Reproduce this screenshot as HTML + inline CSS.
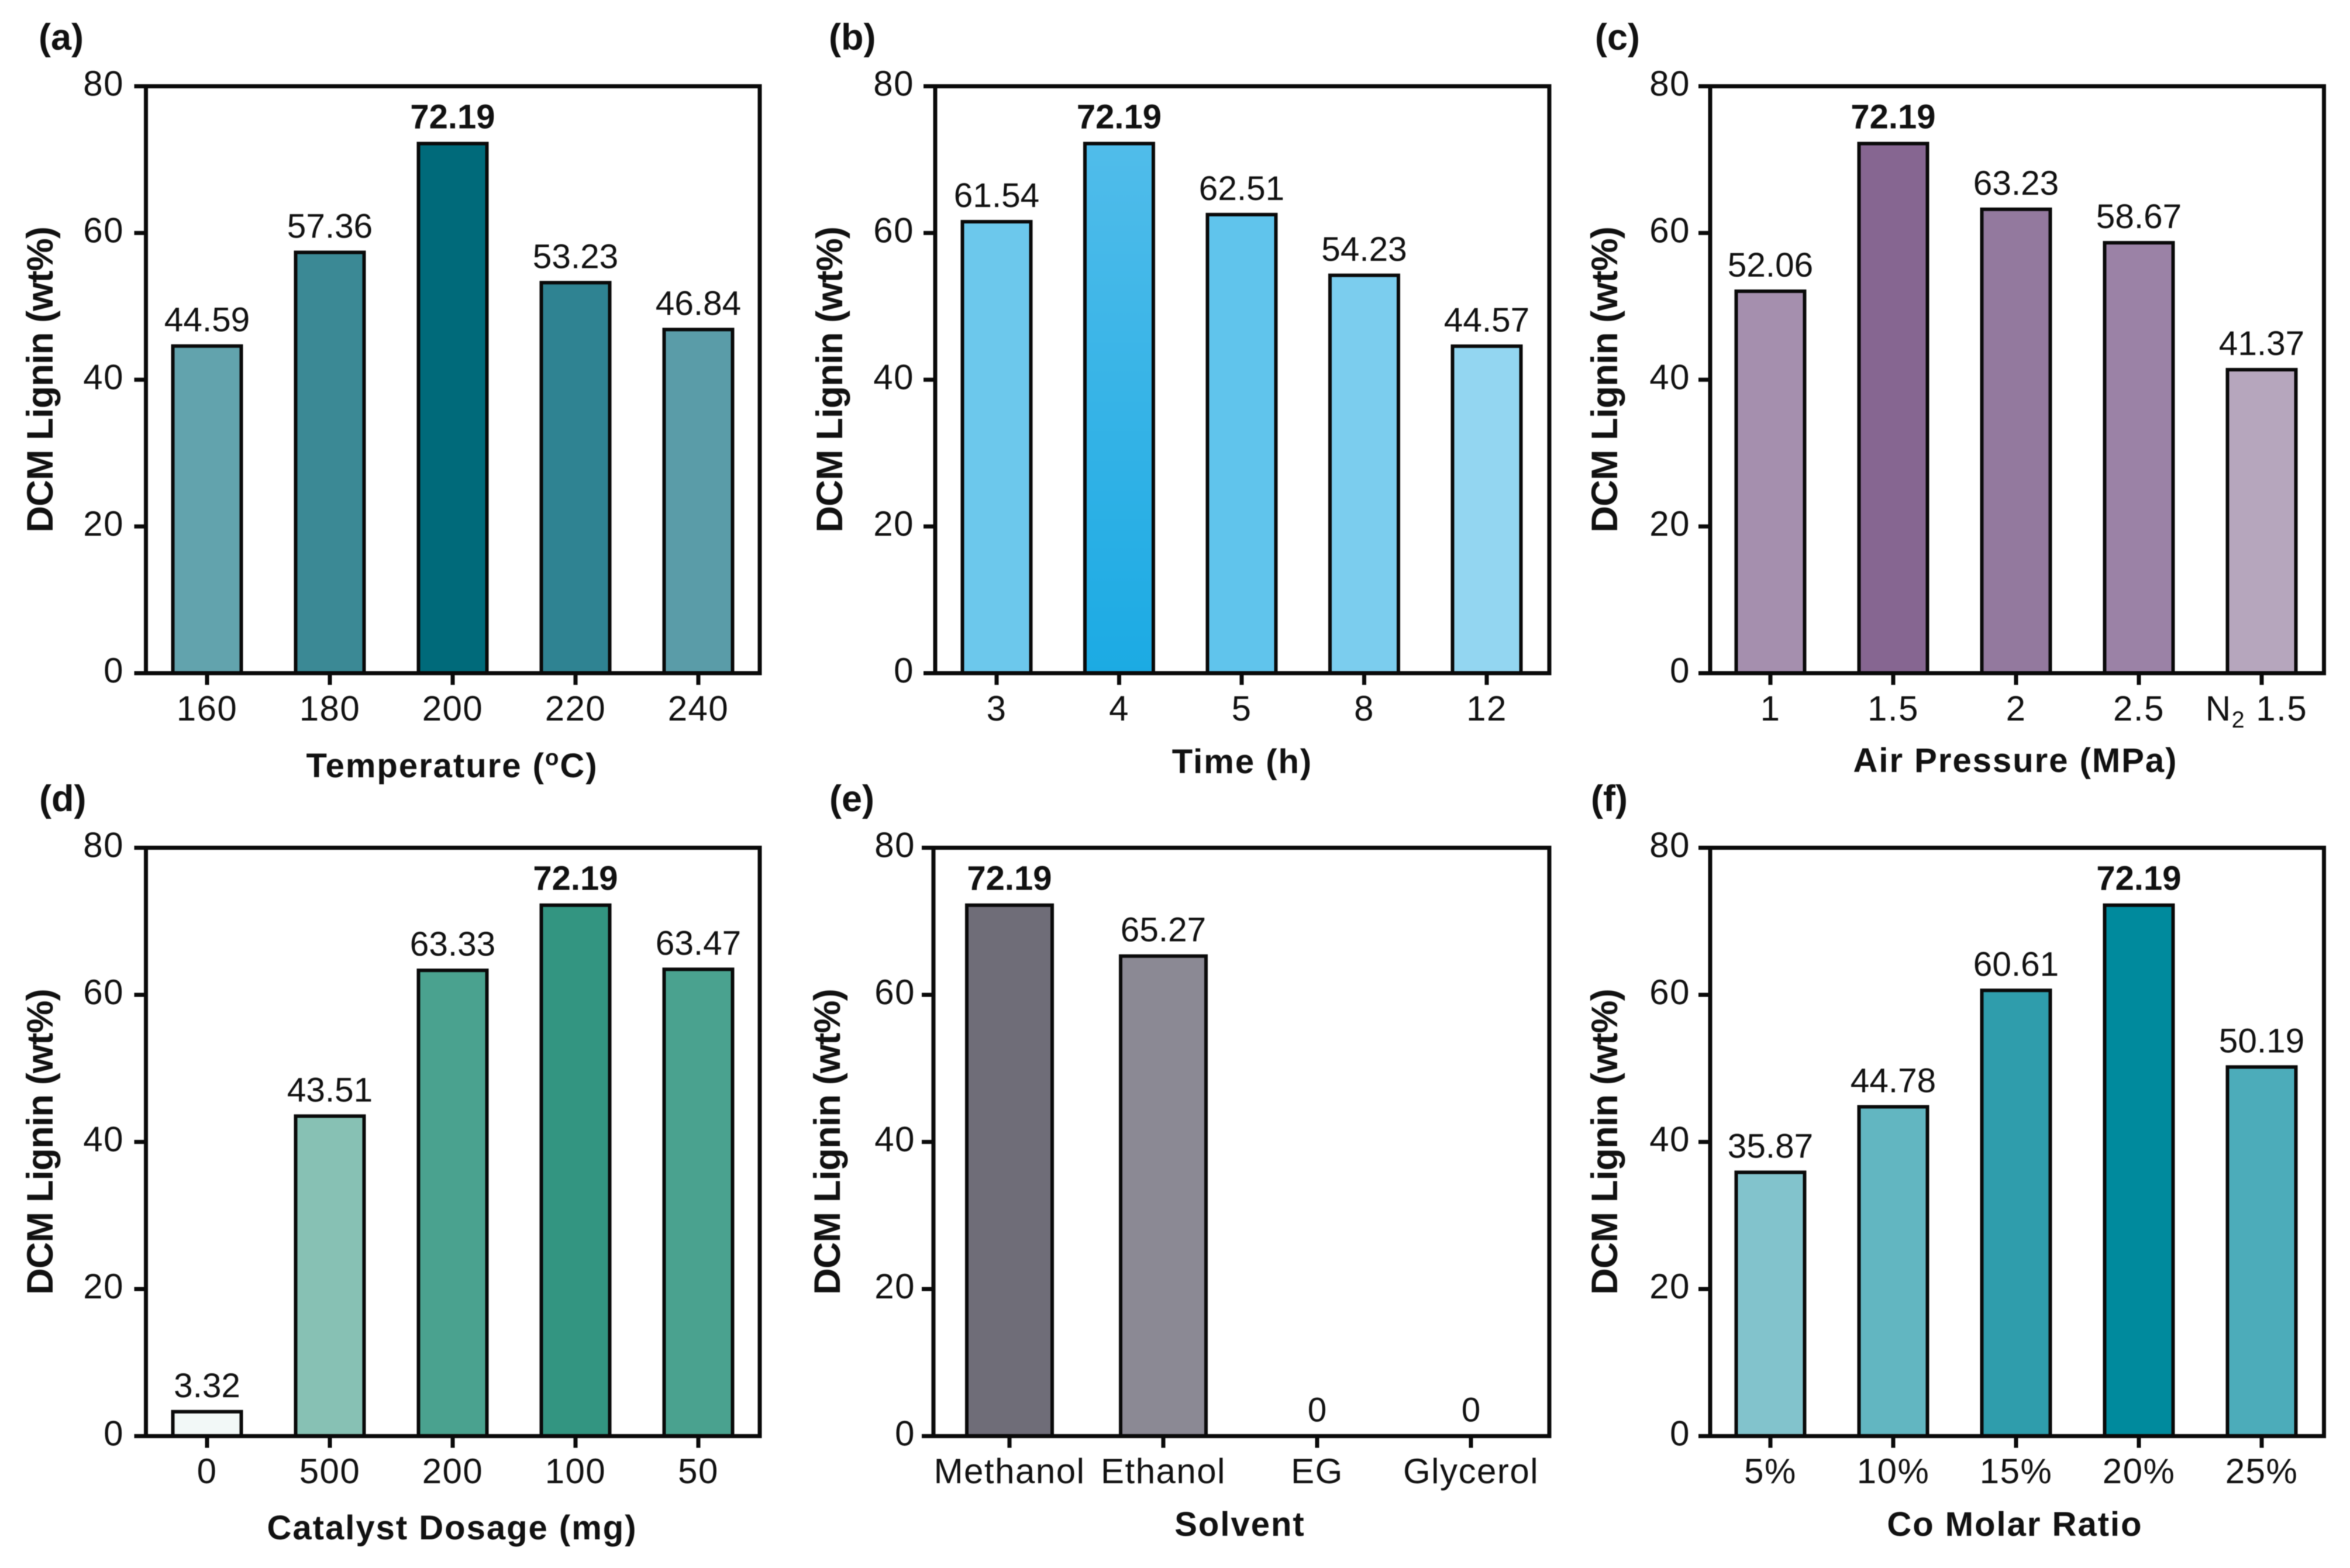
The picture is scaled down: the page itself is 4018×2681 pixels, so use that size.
<!DOCTYPE html>
<html lang="en">
<head>
<meta charset="utf-8">
<title>DCM Lignin yield panels</title>
<style>
html,body{margin:0;padding:0;background:#fff;width:4018px;height:2681px;overflow:hidden}
svg{display:block;filter:blur(0.8px)}
text{font-family:"Liberation Sans",Arial,sans-serif;fill:#111}
</style>
</head>
<body>
<svg id="figure" xmlns="http://www.w3.org/2000/svg" width="4018" height="2681" viewBox="0 0 4018 2681">
<defs>
<linearGradient id="bar-gradient-time" x1="0" y1="0" x2="0" y2="1">
<stop offset="0" stop-color="#50bcea"/>
<stop offset="1" stop-color="#1baae3"/>
</linearGradient>
</defs>
</svg>
<script>
// ---- data ----
const yTicks = [0, 20, 40, 60, 80];
const yAxisTitle = 'DCM Lignin (wt%)';

const categoriesA = ['160', '180', '200', '220', '240'];
const valuesA = [44.59, 57.36, 72.19, 53.23, 46.84];
const categoriesB = ['3', '4', '5', '8', '12'];
const valuesB = [61.54, 72.19, 62.51, 54.23, 44.57];
const categoriesC = ['1', '1.5', '2', '2.5', 'N₂ 1.5'];
const valuesC = [52.06, 72.19, 63.23, 58.67, 41.37];
const categoriesD = ['0', '500', '200', '100', '50'];
const valuesD = [3.32, 43.51, 63.33, 72.19, 63.47];
const categoriesE = ['Methanol', 'Ethanol', 'EG', 'Glycerol'];
const valuesE = [72.19, 65.27, 0, 0];
const categoriesF = ['5%', '10%', '15%', '20%', '25%'];
const valuesF = [35.87, 44.78, 60.61, 72.19, 50.19];

// ---- layout and style ----
const panels = [
  {id:'a', label:'(a)', labelX:66, labelY:85, title:'Temperature (°C)', titleX:773, titleY:1329, tickY:1232,
   left:249.5, right:1299, top:147.5, bottom:1151, first:354, step:210, barW:117, yTitleX:90, yTickX:212,
   cats:categoriesA, vals:valuesA, fills:['#62a3ad','#3b8995','#006a7a','#2f8392','#5a9ca8']},
  {id:'b', label:'(b)', labelX:1417, labelY:85, title:'Time (h)', titleX:2124, titleY:1322, tickY:1232,
   left:1599, right:2649, top:147.5, bottom:1151, first:1704, step:209.5, barW:117, yTitleX:1440, yTickX:1563,
   cats:categoriesB, vals:valuesB, fills:['#6cc8ec','url(#bar-gradient-time)','#60c4ec','#7bcdee','#93d6f1']},
  {id:'c', label:'(c)', labelX:2727, labelY:85, title:'Air Pressure (MPa)', titleX:3446, titleY:1320, tickY:1232,
   left:2924, right:3973.5, top:147.5, bottom:1151, first:3027, step:210, barW:117, yTitleX:2765, yTickX:2890,
   cats:categoriesC, vals:valuesC, fills:['#a58fae','#866691','#93799e','#9b82a6','#b6a6bd']},
  {id:'d', label:'(d)', labelX:67, labelY:1387, title:'Catalyst Dosage (mg)', titleX:773, titleY:2632, tickY:2536,
   left:249.5, right:1299, top:1449.5, bottom:2455.5, first:354, step:210, barW:117, yTitleX:90, yTickX:212,
   cats:categoriesD, vals:valuesD, fills:['#f2f8f7','#87c1b4','#4aa28f','#339581','#4aa28f']},
  {id:'e', label:'(e)', labelX:1418, labelY:1387, title:'Solvent', titleX:2120, titleY:2626, tickY:2536,
   left:1596, right:2649, top:1449.5, bottom:2455.5, first:1726, step:263, barW:146, yTitleX:1436, yTickX:1565,
   cats:categoriesE, vals:valuesE, fills:['#6f6d78','#8b8994','#ffffff','#ffffff']},
  {id:'f', label:'(f)', labelX:2720, labelY:1387, title:'Co Molar Ratio', titleX:3445, titleY:2626, tickY:2536,
   left:2924, right:3973.5, top:1449.5, bottom:2455.5, first:3027, step:210, barW:117, yTitleX:2765, yTickX:2890,
   cats:categoriesF, vals:valuesF, fills:['#82c3cc','#62b6c1','#2f9dac','#008a9d','#4cacba']}
];

const NS = 'http://www.w3.org/2000/svg';
const root = document.getElementById('figure');
const TICK_LEN = 20;
const AXIS_W = 7;
const BAR_STROKE = 6;

function make(tag, parent, name) {
  const el = document.createElementNS(NS, tag);
  
  
  parent.appendChild(el);
  return el;
}

function label(parent, name, content, x, y, size, opts) {
  const o = opts || {};
  const t = make('text', parent, name);
  t.setAttribute('font-size', size);
  t.setAttribute('text-anchor', o.anchor || 'middle');
  if (o.bold) t.setAttribute('font-weight', 'bold');
  if (o.spacing) t.setAttribute('letter-spacing', o.spacing);
  if (o.rotate) t.setAttribute('transform', 'translate(' + x + ' ' + y + ') rotate(-90)');
  else { t.setAttribute('x', x); t.setAttribute('y', y); }
  String(content).split(/([°₂])/).forEach(function (part) {
    if (!part) return;
    const s = document.createElementNS(NS, 'tspan');
    if (part === '°') {
      s.textContent = 'o';
      s.setAttribute('font-size', size * 0.66);
      s.setAttribute('dy', -size * 0.36);
      t.appendChild(s);
      const back = document.createElementNS(NS, 'tspan');
      back.setAttribute('dy', size * 0.36);
      back.textContent = '\u200b';
      t.appendChild(back);
    } else if (part === '₂') {
      s.textContent = '2';
      s.setAttribute('font-size', size * 0.66);
      s.setAttribute('dy', size * 0.2);
      t.appendChild(s);
      const back = document.createElementNS(NS, 'tspan');
      back.setAttribute('dy', -size * 0.2);
      back.textContent = '\u200b';
      t.appendChild(back);
    } else {
      s.textContent = part;
      t.appendChild(s);
    }
  });
  return t;
}

function line(parent, name, x1, y1, x2, y2) {
  const l = make('line', parent, name);
  l.setAttribute('x1', x1);
  l.setAttribute('y1', y1);
  l.setAttribute('x2', x2);
  l.setAttribute('y2', y2);
  l.setAttribute('stroke', '#0a0a0a');
  l.setAttribute('stroke-width', AXIS_W);
  return l;
}

panels.forEach(function (p) {
  const g = make('g', root, 'panel-' + p.id);
  const yScale = function (v) { return p.bottom - (v / 80) * (p.bottom - p.top); };
  const xScale = function (i) { return p.first + i * p.step; };
  const maxVal = Math.max.apply(null, p.vals);

  label(g, 'panel-label-' + p.id, p.label, p.labelX, p.labelY, 63, {anchor:'start', bold:true});

  p.vals.forEach(function (v, i) {
    const cx = xScale(i);
    const bar = make('rect', g, 'bar-' + p.id + '-' + (i + 1));
    bar.setAttribute('x', cx - p.barW / 2);
    bar.setAttribute('y', yScale(v));
    bar.setAttribute('width', p.barW);
    bar.setAttribute('height', p.bottom - yScale(v));
    bar.setAttribute('fill', p.fills[i]);
    bar.setAttribute('stroke', '#0a0a0a');
    bar.setAttribute('stroke-width', BAR_STROKE);
    const top = v === maxVal;
    label(g, 'value-label-' + p.id + '-' + (i + 1), String(v), cx, yScale(v) - (top ? 26 : 25), top ? 58 : 58.5, {bold:top});
  });

  const frame = make('rect', g, 'plot-frame-' + p.id);
  frame.setAttribute('x', p.left);
  frame.setAttribute('y', p.top);
  frame.setAttribute('width', p.right - p.left);
  frame.setAttribute('height', p.bottom - p.top);
  frame.setAttribute('fill', 'none');
  frame.setAttribute('stroke', '#0a0a0a');
  frame.setAttribute('stroke-width', AXIS_W);

  yTicks.forEach(function (t) {
    const y = yScale(t);
    line(g, 'y-tick-' + p.id + '-' + t, p.left - TICK_LEN, y, p.left, y);
    label(g, 'y-tick-label-' + p.id + '-' + t, String(t), p.yTickX, y + 16, 60, {anchor:'end', spacing:1.5});
  });

  p.cats.forEach(function (c, i) {
    const cx = xScale(i);
    line(g, 'x-tick-' + p.id + '-' + (i + 1), cx, p.bottom, cx, p.bottom + TICK_LEN);
    const shift = c.indexOf('₂') >= 0 ? -9 : 0;
    label(g, 'x-tick-label-' + p.id + '-' + (i + 1), c, cx + shift, p.tickY, 60, {spacing:1.5});
  });

  label(g, 'x-axis-title-' + p.id, p.title, p.titleX, p.titleY, 58, {bold:true, spacing:2});
  label(g, 'y-axis-title-' + p.id, yAxisTitle, p.yTitleX, (p.top + p.bottom) / 2, 63, {bold:true, rotate:true, spacing:-0.8});
});
</script>
</body>
</html>
